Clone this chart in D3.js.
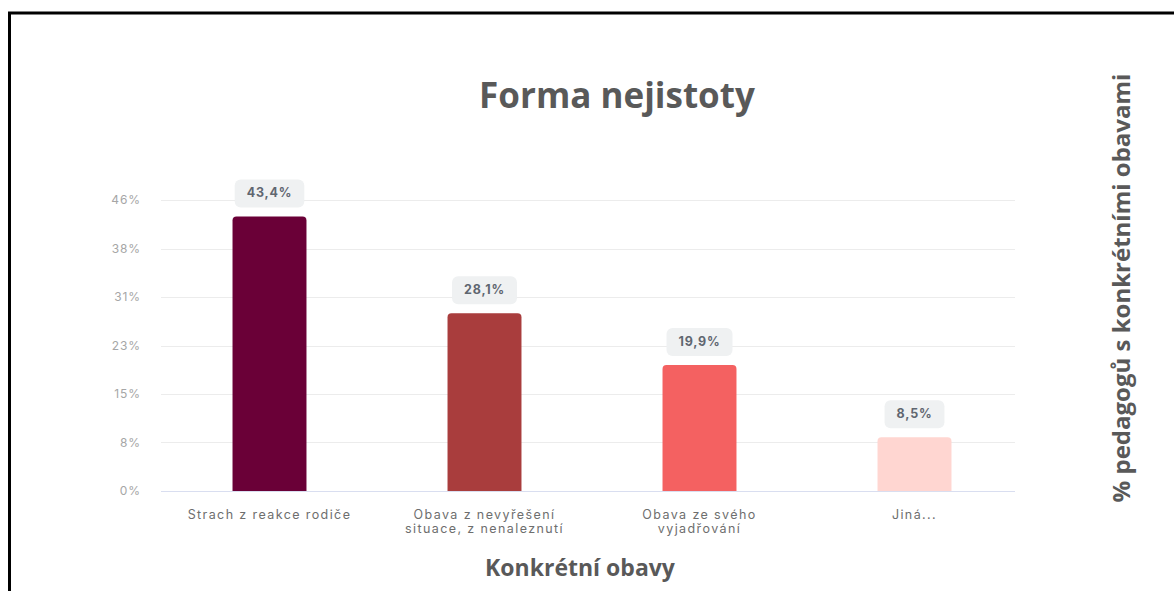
<!DOCTYPE html>
<html>
<head>
<meta charset="utf-8">
<script src="https://cdn.jsdelivr.net/npm/d3@7"></script>
<style>
  html, body { margin: 0; padding: 0; background: #fff; }
  svg { display: block; }
</style>
</head>
<body>
<svg id="chart" width="1174" height="591"></svg>
<script>
// Survey results: share of teachers reporting each specific worry
const categories = [
  ["Strach z reakce rodiče"],
  ["Obava z nevyřešení", "situace, z nenaleznutí"],
  ["Obava ze svého", "vyjadřování"],
  ["Jiná..."]
];
const values = [43.4, 28.1, 19.9, 8.5];
const valueLabels = ["43,4%", "28,1%", "19,9%", "8,5%"];
const barColors = ["#6a0037", "#a93d3d", "#f46161", "#ffd6d1"];
const yMax = 46;
const tickLabels = ["0%", "8%", "15%", "23%", "31%", "38%", "46%"];

const title = "Forma nejistoty";
const xTitle = "Konkrétní obavy";
const yTitle = "% pedagogů s konkrétními obavami";

const uiFont = "Inter, 'DejaVu Sans', sans-serif";
const titleFont = "'Open Sans', sans-serif";

const svg = d3.select("#chart");

// outer frame (runs off the right and bottom edges)
svg.append("rect")
  .attr("x", 9.5).attr("y", 13)
  .attr("width", 1200).attr("height", 600)
  .attr("fill", "none").attr("stroke", "#000").attr("stroke-width", 3);

const plot = { left: 162, right: 1022, top: 200, bottom: 491 };

const x = d3.scaleBand()
  .domain(d3.range(categories.length))
  .range([plot.left, plot.right])
  .paddingInner(0.656).paddingOuter(0.328);

const y = d3.scaleLinear().domain([0, yMax]).range([plot.bottom, plot.top]);
const tickVals = tickLabels.map((_, i) => yMax * i / (tickLabels.length - 1));

// gridlines
svg.append("g").selectAll("line")
  .data(tickVals)
  .join("line")
  .attr("x1", 161).attr("x2", 1015)
  .attr("y1", d => Math.round(y(d)) + 0.5).attr("y2", d => Math.round(y(d)) + 0.5)
  .attr("stroke", (d, i) => i === 0 ? "#d9def0" : "#ececec")
  .attr("stroke-width", 1);

// y axis tick labels
const yAxis = d3.axisLeft(y)
  .tickValues(tickVals)
  .tickSize(0)
  .tickPadding(0)
  .tickFormat((d, i) => tickLabels[i]);
const yg = svg.append("g").attr("transform", "translate(141,0)").call(yAxis);
yg.select(".domain").remove();
yg.selectAll("text")
  .attr("font-family", uiFont)
  .attr("font-size", 12)
  .attr("fill", "#a6a6a6")
  .attr("letter-spacing", 0.9);

// bars with rounded tops
function barPath(x0, w, yTop, yBase, r) {
  r = Math.min(r, w / 2, yBase - yTop);
  return `M${x0},${yBase}V${yTop + r}Q${x0},${yTop} ${x0 + r},${yTop}` +
         `H${x0 + w - r}Q${x0 + w},${yTop} ${x0 + w},${yTop + r}V${yBase}Z`;
}
svg.append("g").selectAll("path")
  .data(values)
  .join("path")
  .attr("d", (d, i) => barPath(x(i), x.bandwidth(), y(d), y(0), 4))
  .attr("fill", (d, i) => barColors[i]);

// value badges
const badges = svg.append("g").selectAll("g")
  .data(values)
  .join("g")
  .attr("transform", (d, i) => `translate(${x(i) + x.bandwidth() / 2},${y(d) - 9})`);
badges.append("text")
  .attr("text-anchor", "middle")
  .attr("y", -10)
  .attr("font-family", uiFont)
  .attr("font-weight", 700)
  .attr("font-size", 12.5)
  .attr("letter-spacing", 0.8)
  .attr("fill", "#5f6670")
  .text((d, i) => valueLabels[i]);
badges.each(function () {
  const g = d3.select(this);
  const w = g.select("text").node().getComputedTextLength() + 24;
  g.insert("rect", "text")
    .attr("x", -w / 2).attr("y", -28)
    .attr("width", w).attr("height", 28)
    .attr("rx", 6)
    .attr("fill", "#eff1f2");
});

// category labels
const cat = svg.append("g").selectAll("text")
  .data(categories)
  .join("text")
  .attr("x", (d, i) => x(i) + x.bandwidth() / 2)
  .attr("y", 519)
  .attr("text-anchor", "middle")
  .attr("font-family", uiFont)
  .attr("font-size", 12.5)
  .attr("letter-spacing", 1.4)
  .attr("fill", "#6e6e6e");
cat.selectAll("tspan")
  .data(d => d)
  .join("tspan")
  .attr("x", function () { return d3.select(this.parentNode).attr("x"); })
  .attr("dy", (d, i) => i === 0 ? 0 : 14)
  .text(d => d);

// titles
svg.append("text")
  .attr("x", 617).attr("y", 108)
  .attr("text-anchor", "middle")
  .attr("font-family", titleFont)
  .attr("font-weight", 700)
  .attr("font-size", 35)
  .attr("fill", "#595959")
  .text(title);

svg.append("text")
  .attr("x", 580).attr("y", 576)
  .attr("text-anchor", "middle")
  .attr("font-family", titleFont)
  .attr("font-weight", 700)
  .attr("font-size", 23)
  .attr("fill", "#595959")
  .text(xTitle);

svg.append("text")
  .attr("transform", "translate(1130,288) rotate(-90)")
  .attr("text-anchor", "middle")
  .attr("font-family", titleFont)
  .attr("font-weight", 700)
  .attr("font-size", 24)
  .attr("fill", "#595959")
  .text(yTitle);
</script>
</body>
</html>
